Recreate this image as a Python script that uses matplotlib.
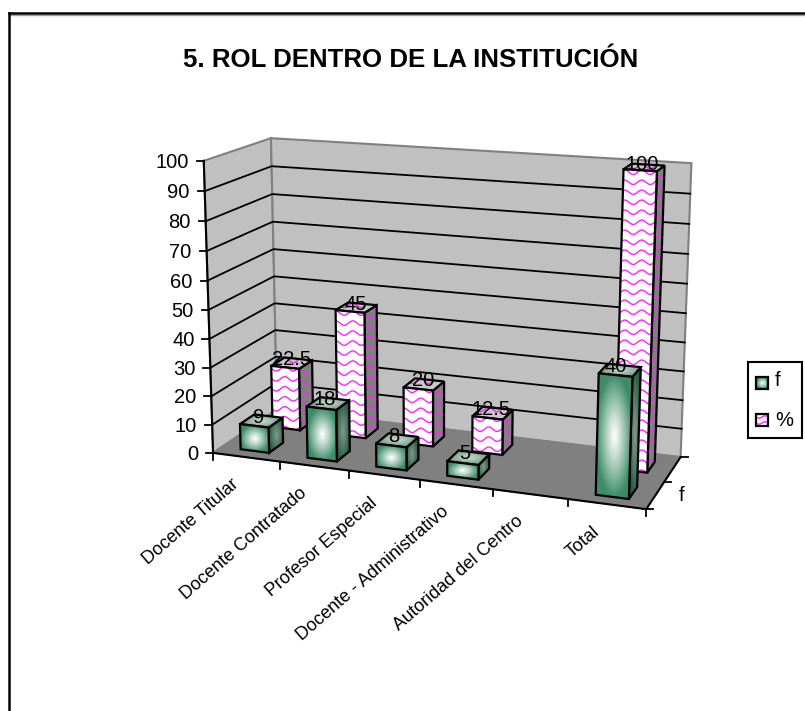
"""5. ROL DENTRO DE LA INSTITUCIÓN: Excel style 3D columns, two rows in depth."""
import matplotlib
matplotlib.use("Agg")
import matplotlib.pyplot as plt
from matplotlib.patches import Polygon, Rectangle
import numpy as np

plt.rcParams["font.family"] = ["Liberation Sans", "DejaVu Sans"]

categories = ["Docente Titular", "Docente Contratado", "Profesor Especial",
              "Docente - Administrativo", "Autoridad del Centro", "Total"]
f_values = [9, 18, 8, 5, 0, 40]
pct_values = [22.5, 45, 20, 12.5, 0, 100]
f_labels = ["9", "18", "8", "5", "", "40"]
pct_labels = ["22.5", "45", "20", "12.5", "", "100"]
y_ticks = list(range(0, 101, 10))

# axis box corners (cat, value, depth) -> pixel, used to fit the 3D projection
calib_world = [(0, 0, 0), (1, 0, 0), (2, 0, 0), (3, 0, 0), (4, 0, 0), (6, 0, 0),
               (0, 0, 1), (6, 0, 1), (0, 100, 0), (0, 100, 1), (6, 100, 1),
               (0, 50, 0), (0, 50, 1), (6, 50, 1)]
calib_px = [(213, 452), (280, 461), (348, 471), (420, 480), (492, 490), (647, 510),
            (278, 412), (680, 455), (204, 162), (270, 138), (692, 164),
            (209, 308), (274, 275), (686, 313)]


def fit_projection(world, px):
    rows = []
    for (x, y, z), (u, v) in zip(world, px):
        s = np.array([x, y / 100, z, 1.0])
        rows.append(np.r_[s, 0, 0, 0, 0, -u * s])
        rows.append(np.r_[0, 0, 0, 0, s, -v * s])
    return np.linalg.svd(np.array(rows))[2][-1].reshape(3, 4)


P = fit_projection(calib_world, calib_px)


def pr(x, y, z):
    h = P @ np.array([x, y / 100, z, 1.0])
    return h[0] / h[2], h[1] / h[2]


fig = plt.figure(figsize=(8.05, 7.11), dpi=100)
ax = fig.add_axes([0, 0, 1, 1])
zo = [3]


def nz():
    zo[0] += 1
    return zo[0]


def gradient(pts, edge, center, outline=True):
    pts = np.array(pts)
    x0, y0 = pts.min(axis=0)
    x1, y1 = pts.max(axis=0)
    u, v = np.meshgrid(np.linspace(-1, 1, 40), np.linspace(-1, 1, 40))
    t = np.clip(np.hypot(u, v), 0, 1)[..., None] ** 1.1
    img = np.array(center) * (1 - t) + np.array(edge) * t
    z = nz()
    im = ax.imshow(img, extent=(x0, x1, y1, y0), aspect="auto", zorder=z, interpolation="bilinear")
    im.set_clip_path(Polygon(pts, transform=ax.transData))
    if outline:
        ax.add_patch(Polygon(pts, fill=False, ec="black", lw=1.6, zorder=nz(), joinstyle="miter"))


def waves(pts, bg, outline=True, step=10.0, amp=2.2, period=17.0):
    pts = np.array(pts)
    ax.add_patch(Polygon(pts, fc=bg, ec="none", zorder=nz()))
    clip = Polygon(pts, transform=ax.transData)
    xs = np.linspace(pts[:, 0].min(), pts[:, 0].max(), 60)
    z = nz()
    for y0 in np.arange(pts[:, 1].min() + 3, pts[:, 1].max() + amp, step):
        ln, = ax.plot(xs, y0 + amp * np.sin(2 * np.pi * xs / period),
                      color="#FF22FF", lw=1.0, zorder=z)
        ln.set_clip_path(clip)
    if outline:
        ax.add_patch(Polygon(pts, fill=False, ec="black", lw=1.6, zorder=nz(), joinstyle="miter"))


def faces(i, val, z0, z1, half=0.215):
    x0, x1 = i + 0.5 - half, i + 0.5 + half
    front = [pr(x0, 0, z0), pr(x1, 0, z0), pr(x1, val, z0), pr(x0, val, z0)]
    side = [pr(x1, 0, z0), pr(x1, 0, z1), pr(x1, val, z1), pr(x1, val, z0)]
    top = [pr(x0, val, z0), pr(x1, val, z0), pr(x1, val, z1), pr(x0, val, z1)]
    return front, side, top


# walls and floor
left = [pr(0, 0, 0), pr(0, 0, 1), pr(0, 100, 1), pr(0, 100, 0)]
back = [pr(0, 0, 1), pr(6, 0, 1), pr(6, 100, 1), pr(0, 100, 1)]
floor = [pr(0, 0, 0), pr(6, 0, 0), pr(6, 0, 1), pr(0, 0, 1)]
ax.add_patch(Polygon(left, fc="#C0C0C0", ec="#808080", lw=1.5, zorder=1))
ax.add_patch(Polygon(back, fc="#C0C0C0", ec="#808080", lw=1.5, zorder=1))
ax.add_patch(Polygon(floor, fc="#808080", ec="#808080", lw=1, zorder=1))

for v in y_ticks[1:-1]:
    xs, ys = zip(pr(0, v, 0), pr(0, v, 1), pr(6, v, 1))
    ax.plot(xs, ys, color="black", lw=1.3, zorder=2)

# axes and ticks
xs, ys = zip(pr(0, 0, 0), pr(0, 100, 0))
ax.plot(xs, ys, color="black", lw=1.5, zorder=2)
for v in y_ticks:
    px, py = pr(0, v, 0)
    ax.plot([px - 7, px], [py, py], color="black", lw=1.3, zorder=2)
    ax.text(px - 15, py + 1.5, str(v), ha="right", va="center", fontsize=14.5, color="black")

xs, ys = zip(pr(0, 0, 0), pr(6, 0, 0), pr(6, 0, 1))
ax.plot(xs, ys, color="black", lw=1.5, zorder=2)
for i in range(7):
    px, py = pr(i, 0, 0)
    ax.plot([px, px], [py, py + 7], color="black", lw=1.3, zorder=2)
for z in (0, 0.5, 1):
    px, py = pr(6, 0, z)
    ax.plot([px, px + 7], [py, py], color="black", lw=1.3, zorder=2)
px, py = pr(6, 0, 0.5)
ax.text(px + 17, py + 14, "f", ha="center", va="center", fontsize=14.5)

for i, name in enumerate(categories):
    px, py = pr(i + 0.5, 0, 0)
    ax.text(px - 15, py + 19, name, rotation=41, rotation_mode="anchor",
            ha="right", va="top", fontsize=13, color="black")

# back row first, front row paints over it
for i, val in enumerate(pct_values):
    if val == 0:
        continue
    front, side, top = faces(i, val, 0.63, 0.85)
    waves(side, "#808080")
    waves(top, "#C8C8C8")
    waves(front, "white")
    cx, cy = pr(i + 0.5, val, 0.8)
    ax.text(cx - 4, cy - 1, pct_labels[i], ha="center", va="center", fontsize=14.5, zorder=nz())

for i, val in enumerate(f_values):
    if val == 0:
        continue
    front, side, top = faces(i, val, 0.13, 0.35)
    gradient(side, (0.17, 0.36, 0.27), (0.50, 0.60, 0.55))
    gradient(top, (0.42, 0.60, 0.51), (0.80, 0.85, 0.82))
    gradient(front, (0.24, 0.55, 0.41), (1.0, 1.0, 1.0))
    cx, cy = pr(i + 0.5, val, 0.3)
    ax.text(cx - 7, cy - 1, f_labels[i], ha="center", va="center", fontsize=14.5, zorder=nz())

# frame: only the top and left edges fall inside the picture
ax.plot([9, 805], [15, 15], color="#A0A0A0", lw=1, zorder=49)
ax.plot([9, 805], [13, 13], color="black", lw=1.8, zorder=50)
ax.plot([9, 9], [13, 711], color="black", lw=1.8, zorder=50)
ax.text(411, 60, "5. ROL DENTRO DE LA INSTITUCIÓN", ha="center", va="center",
        fontsize=18.6, fontweight="bold", color="black")

ax.add_patch(Rectangle((748, 362), 54, 76, fc="white", ec="black", lw=1.5, zorder=nz()))
gradient([(756, 377), (768, 377), (768, 389), (756, 389)], (0.24, 0.55, 0.41), (1, 1, 1))
waves([(756, 414), (768, 414), (768, 426), (756, 426)], "white", step=6, amp=1.2, period=12)
ax.text(775, 381, "f", ha="left", va="center", fontsize=14.5, zorder=nz())
ax.text(775, 420, "%", ha="left", va="center", fontsize=14.5, zorder=nz())

ax.set_xlim(0, 805)
ax.set_ylim(711, 0)
ax.axis("off")
fig.savefig("out.png", dpi=100)
